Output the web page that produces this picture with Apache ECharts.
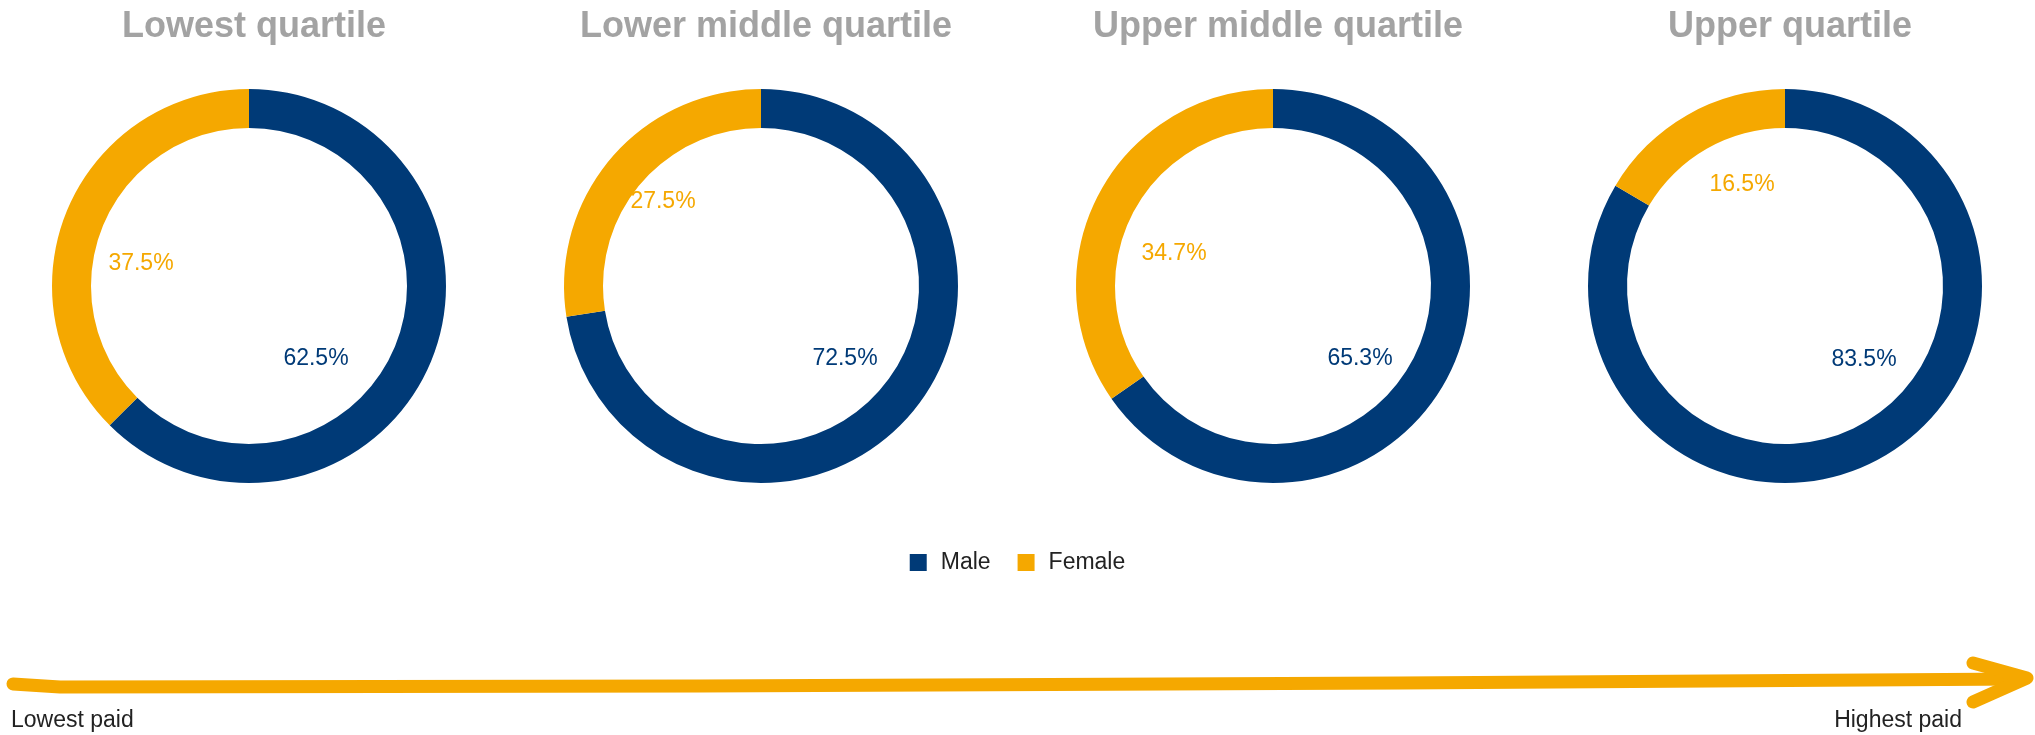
<!DOCTYPE html>
<html>
<head>
<meta charset="utf-8">
<script src="https://cdn.jsdelivr.net/npm/echarts@6/dist/echarts.min.js"></script>
<style>
  html, body { margin: 0; padding: 0; background: #fff; }
  #main { width: 2035px; height: 735px; }
</style>
</head>
<body>
<div id="main"></div>
<script>
// data
const quartiles = ['Lowest quartile', 'Lower middle quartile', 'Upper middle quartile', 'Upper quartile']
const genders = ['Male', 'Female']
const maleShare = [62.5, 72.5, 65.3, 83.5]
const femaleShare = [37.5, 27.5, 34.7, 16.5]

// layout
const NAVY = '#003a77'
const ORANGE = '#f5a800'
const centersX = [249, 761, 1273, 1785]
const centerY = 286
// label centre offsets from the donut centre, [male, female]
const labelOffsets = [
  [[67, 73], [-108, -22]],
  [[84, 73], [-98, -84]],
  [[87, 73], [-99, -32]],
  [[79, 74], [-43, -101]]
]

const chart = echarts.init(document.getElementById('main'))

const titles = quartiles.map((q, i) => ({
  text: q,
  left: centersX[i],
  top: 4,
  textAlign: 'center',
  textStyle: { fontFamily: 'Liberation Sans, Arial', fontSize: 36, fontWeight: 'bold', color: '#a3a3a3' }
}))

const series = quartiles.map((q, i) => ({
  name: q,
  type: 'pie',
  center: [centersX[i], centerY],
  radius: [158, 197],
  startAngle: 90,
  clockwise: true,
  silent: true,
  label: {
    show: true,
    position: 'inside',
    formatter: '{c}%',
    fontFamily: 'Liberation Sans, Arial',
    fontSize: 23
  },
  labelLine: { show: false },
  labelLayout: function (p) {
    const off = labelOffsets[p.seriesIndex][p.dataIndex]
    return { x: centersX[p.seriesIndex] + off[0], y: centerY + off[1], align: 'center', verticalAlign: 'middle' }
  },
  data: [
    { name: genders[0], value: maleShare[i], itemStyle: { color: NAVY }, label: { color: NAVY } },
    { name: genders[1], value: femaleShare[i], itemStyle: { color: ORANGE }, label: { color: ORANGE } }
  ]
}))

const option = {
  animation: false,
  title: titles,
  legend: {
    data: genders,
    top: 546,
    left: 'center',
    icon: 'rect',
    itemWidth: 17,
    itemHeight: 17,
    itemGap: 27,
    selectedMode: false,
    textStyle: { fontFamily: 'Liberation Sans, Arial', fontSize: 23, color: '#222', padding: [0, 0, 0, 9] }
  },
  color: [NAVY, ORANGE],
  series: series,
  graphic: [
    // the "pay scale" arrow under the chart
    {
      type: 'polyline',
      shape: { points: [[13, 684], [60, 687], [700, 686], [1400, 683], [2022, 679]] },
      style: { stroke: ORANGE, lineWidth: 13, lineCap: 'round', lineJoin: 'round', fill: null }
    },
    {
      type: 'polyline',
      shape: { points: [[1973, 663], [2027, 678], [1973, 702]] },
      style: { stroke: ORANGE, lineWidth: 13, lineCap: 'round', lineJoin: 'round', fill: null }
    },
    {
      type: 'text',
      left: 11,
      top: 709,
      style: { text: 'Lowest paid', font: '23px "Liberation Sans", Arial', fill: '#222' }
    },
    {
      type: 'text',
      right: 73,
      top: 709,
      style: { text: 'Highest paid', font: '23px "Liberation Sans", Arial', fill: '#222' }
    }
  ]
}

chart.setOption(option)
</script>
</body>
</html>
